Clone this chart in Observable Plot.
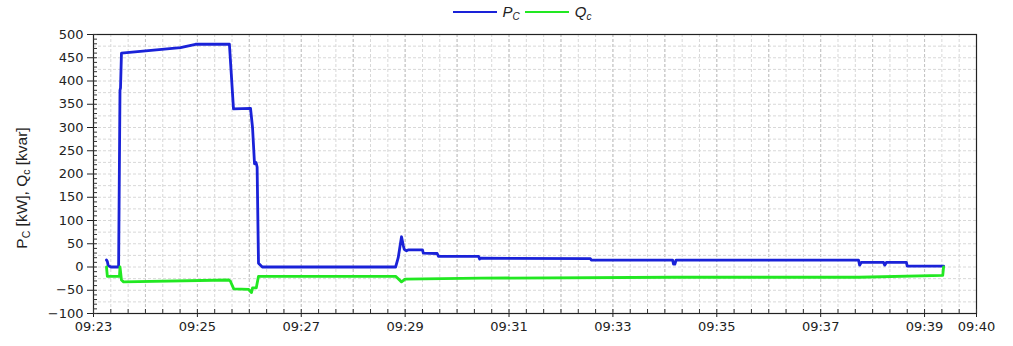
<!DOCTYPE html>
<html><head><meta charset="utf-8">
<script src="https://cdn.jsdelivr.net/npm/d3@7"></script>
<script src="https://cdn.jsdelivr.net/npm/@observablehq/plot@0.6"></script>
<style>
body{margin:0;background:#fff;font-family:"Liberation Sans",Arial,sans-serif;}
#legend{height:24px;width:1013px;display:flex;justify-content:center;align-items:center;padding-left:36px;box-sizing:border-box;font-size:15px;color:#222;}
#legend .sw{display:inline-block;width:44px;height:2px;margin-right:6px}
#legend .it{font-style:italic;margin-right:5px}
#legend sub{font-size:10px;font-style:italic;vertical-align:-3px}
</style></head><body>
<div id="legend"></div><div id="chart"></div>
<script>
// time base: 09:23:00
const T0 = Date.UTC(2021, 0, 1, 9, 23, 0);
// P_C series (seconds after 09:23:00, kW)
const pSeconds = [15, 16, 17, 20, 29, 30.6, 31.2, 32.3, 100.5, 117.8, 157, 159, 161.7, 181.4, 183.7, 186, 187.7, 189, 190.6, 195, 349, 352, 355.8, 358, 359, 361.6, 364, 380, 381, 397, 398.4, 444.8, 446, 447, 574, 575, 669, 670, 671.5, 673, 883.7, 885, 887, 912.6, 914, 916, 939, 940, 982];
const pValues  = [15, 12, 3, 0, 0, 380, 385, 460, 472, 479, 479, 420, 340, 341, 300, 222, 225, 215, 8, 0, 0, 20, 65, 45, 38, 35, 37, 37, 30, 29, 23, 23, 17, 19, 18, 15, 15, 6, 6, 15, 15, 4, 10, 10, 4, 10, 10, 2, 2];
// Q_c series (seconds after 09:23:00, kvar)
const qSeconds = [15, 16, 30, 30.6, 32.3, 34.7, 156, 158, 162, 179, 181, 182.5, 183.7, 188, 190.6, 349, 355.8, 360, 447, 670, 884, 981, 982];
const qValues  = [0, -20, -20, 0, -28, -32, -28, -30, -47, -48, -52, -55, -45, -45, -20, -20, -32, -26, -24, -22, -22, -18, 0];
const seriesNames = ["P", "Q"];
const seriesSubs = ["C", "c"];
const seriesColors = ["#1a22d8", "#22e822"];
const xTickLabels = ["09:23", "09:25", "09:27", "09:29", "09:31", "09:33", "09:35", "09:37", "09:39", "09:40"];
const yTicks = [-100, -50, 0, 50, 100, 150, 200, 250, 300, 350, 400, 450, 500];
const yDomain = [-100, 500];
const xDomainLabels = ["09:23", "09:40"];

const toDate = s => new Date(T0 + s * 1000);
const labelDate = l => { const [h, m] = l.split(":").map(Number); return toDate(((h * 60 + m) - (9 * 60 + 23)) * 60); };

const rows = [];
pSeconds.forEach((s, i) => rows.push({t: toDate(s), v: pValues[i], k: seriesNames[0]}));
qSeconds.forEach((s, i) => rows.push({t: toDate(s), v: qValues[i], k: seriesNames[1]}));

const xMajor = xTickLabels.map(labelDate);
const xDom = xDomainLabels.map(labelDate);
const xMinor = d3.utcSecond.every(20).range(xDom[0], new Date(+xDom[1] + 1));
const xMinute = d3.utcMinute.every(1).range(xDom[0], new Date(+xDom[1] + 1));
const yMinor = d3.range(yDomain[0], yDomain[1] + 1, 10);
const yGrid = d3.range(yDomain[0], yDomain[1] + 1, 25);

// legend
const lg = document.getElementById("legend");
seriesNames.forEach((n, i) => {
  const sw = document.createElement("span"); sw.className = "sw"; sw.style.background = seriesColors[i]; lg.appendChild(sw);
  const it = document.createElement("span"); it.className = "it"; it.innerHTML = n + "<sub>" + seriesSubs[i] + "</sub>"; lg.appendChild(it);
});

const chart = Plot.plot({
  width: 1013,
  height: 322,
  marginTop: 10,
  marginBottom: 33,
  marginLeft: 93,
  marginRight: 37,
  style: {fontFamily: "DejaVu Sans, sans-serif", fontSize: "13px", color: "#222", background: "#fff"},
  x: {type: "utc", domain: xDom},
  y: {domain: yDomain},
  color: {domain: seriesNames, range: seriesColors},
  marks: [
    Plot.gridX(xMinor, {stroke: "#d8d8d8", strokeOpacity: 1, strokeDasharray: "3,2"}),
    Plot.gridX(xMinute, {stroke: "#c4c4c4", strokeOpacity: 1, strokeDasharray: "3,2"}),
    Plot.gridY(yGrid, {stroke: "#d8d8d8", strokeOpacity: 1, strokeDasharray: "3,2"}),
    Plot.line(rows, {x: "t", y: "v", z: "k", stroke: "k", strokeWidth: 2.8, strokeLinejoin: "round"}),
    Plot.frame({stroke: "#222", strokeWidth: 1.2}),
    Plot.axisX(xMajor, {tickSize: 4, tickPadding: 4, tickFormat: d3.utcFormat("%H:%M"), label: null, stroke: "#222"}),
    Plot.axisX(xMinor, {tickSize: 4, dy: -4, text: null, label: null, stroke: "#333"}),
    Plot.axisY(yTicks, {tickSize: 6, tickPadding: 4, label: null, stroke: "#222"}),
    Plot.axisY(yMinor, {tickSize: 4, dx: 4, text: null, label: null, stroke: "#333"})
  ]
});
document.getElementById("chart").appendChild(chart);

// y-axis title with subscripts
const svg = d3.select(chart);
const yt = svg.append("text")
  .attr("transform", "translate(27,164) rotate(-90)")
  .attr("text-anchor", "middle")
  .attr("font-family", "Liberation Sans, Arial, sans-serif")
  .attr("font-size", 15.5)
  .attr("fill", "#222");
yt.append("tspan").text("P");
yt.append("tspan").attr("font-size", 10.5).attr("dy", 3).text("C");
yt.append("tspan").attr("dy", -3).text(" [kW], Q");
yt.append("tspan").attr("font-size", 10.5).attr("dy", 3).text("c");
yt.append("tspan").attr("dy", -3).text(" [kvar]");
</script>
</body></html>
